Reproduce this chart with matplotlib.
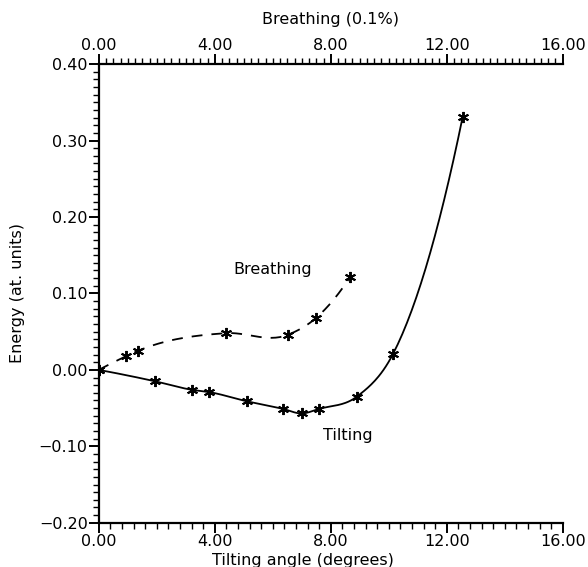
"""
Energy vs tilting angle / breathing
"""

from matplotlib import pyplot as plt
from matplotlib.ticker import AutoMinorLocator
import numpy as np

# tilting curve (bottom axis, degrees)
tilt_x = [0.0, 1.95, 3.2, 3.8, 5.1, 6.35, 7.0, 7.6, 8.9, 10.15, 12.55]
tilt_e = [0.0, -0.015, -0.026, -0.029, -0.041, -0.051, -0.057, -0.051, -0.035, 0.021, 0.331]

# breathing curve (top axis, 0.1 %)
breath_x = [0.0, 0.95, 1.36, 4.38, 6.53, 7.48, 8.66]
breath_e = [0.0, 0.018, 0.025, 0.048, 0.046, 0.0675, 0.121]

x_ticks = [0, 4, 8, 12, 16]
y_ticks = [-0.2, -0.1, 0.0, 0.1, 0.2, 0.3, 0.4]


def smooth(x, y, n=30):
    # cubic hermite through the points, only for drawing the line
    x = np.asarray(x, float)
    y = np.asarray(y, float)
    m = np.gradient(y, x, edge_order=2)
    xs, ys = [], []
    for i in range(len(x) - 1):
        h = x[i + 1] - x[i]
        t = np.linspace(0, 1, n, endpoint=False)
        h00 = 2*t**3 - 3*t**2 + 1
        h10 = t**3 - 2*t**2 + t
        h01 = -2*t**3 + 3*t**2
        h11 = t**3 - t**2
        xs.append(x[i] + t*h)
        ys.append(h00*y[i] + h10*h*m[i] + h01*y[i + 1] + h11*h*m[i + 1])
    xs.append([x[-1]])
    ys.append([y[-1]])
    return np.concatenate(xs), np.concatenate(ys)


plt.rcParams['font.family'] = 'DejaVu Sans'
plt.rcParams['axes.unicode_minus'] = True

fig = plt.figure(figsize=(5.88, 5.67), dpi=100)
ax = fig.add_axes([0.168, 0.078, 0.789, 0.809])

sx, sy = smooth(tilt_x, tilt_e)
ax.plot(sx, sy, color='black', lw=1.3)
ax.plot(tilt_x, tilt_e, ls='none', marker=(6, 2, 0), ms=8, mew=1.4, color='black')

bx, by = smooth(breath_x, breath_e)
ax.plot(bx, by, color='black', lw=1.3, ls=(0, (6, 5)))
ax.plot(breath_x, breath_e, ls='none', marker=(6, 2, 0), ms=8, mew=1.4, color='black')

ax.set_xlim(0, 16)
ax.set_ylim(-0.2, 0.4)
ax.set_xticks(x_ticks)
ax.set_xticklabels([f"{v:.2f}" for v in x_ticks])
ax.set_yticks(y_ticks)
ax.set_yticklabels([f"{v:.2f}".replace('-', '\u2212') for v in y_ticks])
ax.xaxis.set_minor_locator(AutoMinorLocator(10))
ax.yaxis.set_minor_locator(AutoMinorLocator(10))

ax.spines['right'].set_visible(False)
for s in ['left', 'bottom', 'top']:
    ax.spines[s].set_linewidth(1.6)
ax.tick_params(which='major', direction='out', length=7, width=1.4, labelsize=11.5, pad=1)
ax.tick_params(which='minor', direction='out', length=4, width=1.0)
ax.tick_params(axis='y', which='both', right=False)

top = ax.secondary_xaxis('top')
top.set_xticks(x_ticks)
top.set_xticklabels([f"{v:.2f}" for v in x_ticks])
top.xaxis.set_minor_locator(AutoMinorLocator(16))
top.spines['top'].set_linewidth(1.6)
top.tick_params(which='major', direction='out', length=7, width=1.4, labelsize=11.5, pad=1)
top.tick_params(which='minor', direction='out', length=4, width=1.0)
top.set_xlabel("Breathing (0.1%)", fontsize=11.5, labelpad=10)
ax.spines['top'].set_visible(False)

ax.set_xlabel("Tilting angle (degrees)", fontsize=11.5, labelpad=0)
ax.xaxis.set_label_coords(0.44, -0.065)
ax.set_ylabel("Energy (at. units)", fontsize=11.5, labelpad=10)

ax.text(6.0, 0.131, "Breathing", fontsize=11.5, ha='center', va='center')
ax.text(8.6, -0.086, "Tilting", fontsize=11.5, ha='center', va='center')

plt.savefig("out.png", dpi=100)
